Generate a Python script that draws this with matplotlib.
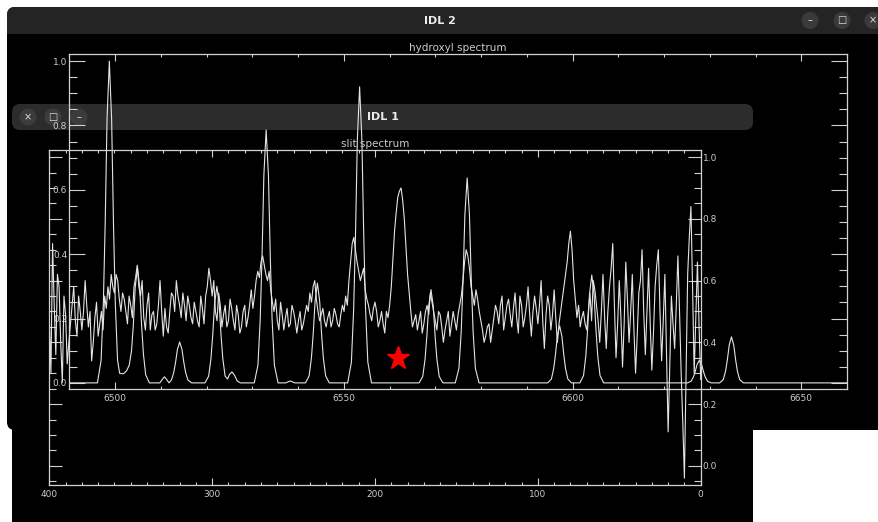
"""
Two overlapping IDL windows: the hydroxyl (OH) sky spectrum and the
slit spectrum, which the window manager shows mirrored left to right.
"""

import numpy as np
import matplotlib
matplotlib.use('Agg')
import matplotlib.pyplot as plt
from matplotlib.patches import FancyBboxPatch, Rectangle, Circle
from matplotlib.ticker import MultipleLocator, FormatStrFormatter

# hydroxyl spectrum: wavelength (Angstrom) and normalised flux
oh_wave = [6490.0,
           6496.15, 6496.95, 6497.45, 6497.85, 6498.25, 6498.75, 6499.25, 6499.65, 6500.05, 6500.55,
           6501.0, 6501.8, 6502.5, 6503.1, 6503.6, 6504.0, 6504.4, 6504.9, 6505.4, 6505.8,
           6506.2, 6506.7, 6507.5,
           6509.8, 6510.4, 6510.8, 6511.2, 6511.8,
           6512.33, 6512.83, 6513.23, 6513.63, 6514.13, 6514.63, 6515.03, 6515.43, 6515.93, 6516.73,
           6519.66, 6520.46, 6520.96, 6521.36, 6521.76, 6522.26, 6522.76, 6523.16, 6523.56, 6524.06,
           6524.6, 6525.0, 6525.56, 6526.1, 6526.7, 6527.4,
           6530.43, 6531.23, 6531.73, 6532.13, 6532.53, 6533.03, 6533.53, 6533.93, 6534.33, 6534.83, 6535.63,
           6537.3, 6538.3, 6539.3,
           6541.63, 6542.43, 6542.93, 6543.33, 6543.73, 6544.23, 6544.73, 6545.13, 6545.53, 6546.03, 6546.83,
           6550.86, 6551.66, 6552.16, 6552.56, 6552.96, 6553.46, 6553.96, 6554.36, 6554.76, 6555.26, 6556.06,
           6566.46, 6567.26, 6567.76, 6568.16, 6568.56, 6569.06, 6569.56, 6569.96, 6570.36, 6570.86, 6571.66,
           6574.37, 6575.17, 6575.67, 6576.07, 6576.47, 6576.97, 6577.47, 6577.87, 6578.27, 6578.77, 6579.57,
           6594.58, 6595.38, 6595.88, 6596.28, 6596.68, 6597.18, 6597.68, 6598.08, 6598.48, 6598.98, 6599.78,
           6601.61, 6602.41, 6602.91, 6603.31, 6603.71, 6604.21, 6604.71, 6605.11, 6605.51, 6606.01, 6606.81,
           6625.12, 6625.92, 6626.42, 6626.82, 6627.22, 6627.72, 6628.22, 6628.62, 6629.02, 6629.52, 6630.32,
           6632.15, 6632.95, 6633.45, 6633.85, 6634.25, 6634.75, 6635.25, 6635.65, 6636.05, 6636.55, 6637.35,
           6660.0]
oh_flux = [0.0,
           0.0, 0.07, 0.25, 0.5, 0.82, 1.0, 0.82, 0.5, 0.25, 0.07,
           0.03, 0.028, 0.037, 0.055, 0.10, 0.18, 0.295, 0.36, 0.295, 0.18,
           0.09, 0.025, 0.0,
           0.0, 0.012, 0.019, 0.012, 0.0,
           0.009, 0.032, 0.064, 0.104, 0.127, 0.104, 0.064, 0.032, 0.009, 0.0,
           0.0, 0.021, 0.075, 0.15, 0.246, 0.30, 0.246, 0.15, 0.075, 0.021,
           0.012, 0.026, 0.034, 0.024, 0.006, 0.0,
           0.0, 0.055, 0.197, 0.393, 0.645, 0.786, 0.645, 0.393, 0.197, 0.055, 0.0,
           0.0, 0.006, 0.0,
           0.0, 0.022, 0.078, 0.155, 0.254, 0.31, 0.254, 0.155, 0.078, 0.022, 0.0,
           0.0, 0.064, 0.23, 0.46, 0.754, 0.92, 0.754, 0.46, 0.23, 0.064, 0.0,
           0.0, 0.02, 0.073, 0.145, 0.238, 0.29, 0.238, 0.145, 0.073, 0.02, 0.0,
           0.0, 0.045, 0.159, 0.319, 0.522, 0.637, 0.522, 0.319, 0.159, 0.045, 0.0,
           0.0, 0.012, 0.044, 0.089, 0.145, 0.177, 0.145, 0.089, 0.044, 0.012, 0.0,
           0.0, 0.023, 0.084, 0.168, 0.275, 0.335, 0.275, 0.168, 0.084, 0.023, 0.0,
           0.0, 0.005, 0.018, 0.035, 0.057, 0.07, 0.057, 0.035, 0.018, 0.005, 0.0,
           0.0, 0.01, 0.036, 0.072, 0.117, 0.143, 0.117, 0.072, 0.036, 0.01, 0.0,
           0.0]

# slit spectrum: one value per pixel, from pixel 400 down to pixel 0
slit_pix = np.arange(400, -1, -1)
slit_flux = [0.48, 0.30, 0.72, 0.52, 0.36, 0.62, 0.58, 0.40, 0.27, 0.55, 0.49, 0.33, 0.40, 0.46, 0.52, 0.58, 0.47, 0.42, 0.55, 0.50,
             0.44, 0.50, 0.60, 0.52, 0.45, 0.50, 0.34, 0.40, 0.48, 0.53, 0.42, 0.46, 0.50, 0.44, 0.55, 0.51, 0.58, 0.54, 0.62, 0.58,
             0.56, 0.62, 0.60, 0.54, 0.50, 0.56, 0.54, 0.50, 0.46, 0.55, 0.52, 0.48, 0.58, 0.61, 0.65, 0.58, 0.55, 0.60, 0.48, 0.44,
             0.52, 0.56, 0.44, 0.49, 0.50, 0.44, 0.46, 0.52, 0.60, 0.50, 0.42, 0.51, 0.45, 0.43, 0.50, 0.56, 0.55, 0.50, 0.60, 0.55,
             0.52, 0.48, 0.56, 0.52, 0.47, 0.55, 0.52, 0.48, 0.46, 0.53, 0.50, 0.47, 0.45, 0.55, 0.51, 0.46, 0.55, 0.58, 0.64, 0.60,
             0.55, 0.60, 0.50, 0.47, 0.56, 0.52, 0.45, 0.49, 0.52, 0.45, 0.47, 0.54, 0.51, 0.47, 0.44, 0.52, 0.49, 0.43, 0.45, 0.50,
             0.52, 0.45, 0.48, 0.52, 0.57, 0.51, 0.55, 0.60, 0.63, 0.61, 0.66, 0.68, 0.65, 0.62, 0.60, 0.63, 0.57, 0.53, 0.50, 0.54,
             0.47, 0.44, 0.53, 0.49, 0.44, 0.48, 0.51, 0.45, 0.46, 0.52, 0.50, 0.47, 0.43, 0.47, 0.50, 0.44, 0.46, 0.49, 0.52, 0.50,
             0.56, 0.53, 0.58, 0.60, 0.54, 0.50, 0.47, 0.49, 0.51, 0.47, 0.45, 0.48, 0.50, 0.45, 0.47, 0.51, 0.49, 0.46, 0.45, 0.49,
             0.52, 0.50, 0.55, 0.52, 0.60, 0.66, 0.72, 0.74, 0.70, 0.66, 0.63, 0.60, 0.62, 0.64, 0.57, 0.54, 0.52, 0.49, 0.47, 0.51,
             0.53, 0.50, 0.45, 0.47, 0.50, 0.46, 0.43, 0.50, 0.48, 0.52, 0.58, 0.67, 0.76, 0.82, 0.87, 0.89, 0.90, 0.86, 0.80, 0.71,
             0.62, 0.56, 0.50, 0.45, 0.47, 0.49, 0.44, 0.47, 0.50, 0.43, 0.46, 0.50, 0.52, 0.49, 0.56, 0.53, 0.50, 0.47, 0.44, 0.50,
             0.49, 0.45, 0.40, 0.44, 0.47, 0.50, 0.42, 0.46, 0.50, 0.47, 0.44, 0.49, 0.52, 0.55, 0.60, 0.66, 0.70, 0.68, 0.64, 0.58,
             0.55, 0.52, 0.57, 0.54, 0.50, 0.47, 0.44, 0.40, 0.42, 0.45, 0.46, 0.40, 0.44, 0.48, 0.52, 0.50, 0.46, 0.52, 0.55, 0.44,
             0.48, 0.52, 0.54, 0.49, 0.45, 0.51, 0.56, 0.48, 0.43, 0.55, 0.52, 0.45, 0.48, 0.52, 0.58, 0.49, 0.42, 0.50, 0.55, 0.51,
             0.46, 0.52, 0.60, 0.47, 0.38, 0.49, 0.55, 0.52, 0.44, 0.49, 0.57, 0.48, 0.40, 0.46, 0.50, 0.54, 0.58, 0.62, 0.66, 0.72,
             0.76, 0.70, 0.60, 0.54, 0.48, 0.52, 0.45, 0.48, 0.50, 0.46, 0.44, 0.50, 0.56, 0.47, 0.60, 0.57, 0.52, 0.47, 0.40, 0.50,
             0.62, 0.48, 0.38, 0.50, 0.58, 0.64, 0.72, 0.52, 0.35, 0.46, 0.60, 0.48, 0.32, 0.46, 0.66, 0.54, 0.40, 0.50, 0.62, 0.44,
             0.30, 0.42, 0.56, 0.60, 0.70, 0.50, 0.36, 0.50, 0.64, 0.46, 0.31, 0.43, 0.58, 0.65, 0.70, 0.50, 0.34, 0.47, 0.62, 0.36,
             0.11, 0.32, 0.55, 0.46, 0.38, 0.52, 0.68, 0.50, 0.30, 0.14, -0.04, 0.30, 0.62, 0.74, 0.84, 0.58, 0.30, 0.48, 0.66, 0.45,
             0.28]

# red star marking H-alpha on the hydroxyl plot
star_wave = [6561.8]
star_flux = [0.078]

LINE = '#e4e4e4'
AXC = '#d2d2d2'
TXT = '#cccccc'


def draw_windows(fig):
    # window chrome, drawn in pixel coordinates behind both plots
    bg = fig.add_axes([0, 0, 1, 1], zorder=-5)
    bg.set_xlim(0, 879)
    bg.set_ylim(522, 0)
    bg.axis('off')

    # IDL 2 (back window)
    bg.add_patch(FancyBboxPatch((7, 7), 900, 423, boxstyle='round,pad=0,rounding_size=8',
                                fc='black', ec='none'))
    bg.add_patch(FancyBboxPatch((7, 7), 900, 27, boxstyle='round,pad=0,rounding_size=8',
                                fc='#242424', ec='none'))
    bg.add_patch(Rectangle((7, 22), 900, 12, fc='#242424', ec='none'))
    bg.text(440, 20.5, 'IDL 2', ha='center', va='center', color='#ececec',
            fontsize=8, fontweight='bold')
    for x, glyph in zip([810, 842, 873], ['–', '□', '×']):
        bg.add_patch(Circle((x, 20.5), 8.5, fc='#3a3a3a', ec='none'))
        bg.text(x, 20.5, glyph, ha='center', va='center', color='#e0e0e0', fontsize=7)

    # IDL 1 (front window, mirrored)
    bg.add_patch(FancyBboxPatch((12, 104), 741, 430, boxstyle='round,pad=0,rounding_size=8',
                                fc='black', ec='none'))
    bg.add_patch(FancyBboxPatch((12, 104), 741, 26, boxstyle='round,pad=0,rounding_size=8',
                                fc='#2c2c2c', ec='none'))
    bg.text(383, 117, 'IDL 1', ha='center', va='center', color='#ececec',
            fontsize=8, fontweight='bold')
    for x, glyph in zip([28, 53, 79], ['×', '□', '–']):
        bg.add_patch(Circle((x, 117), 8.5, fc='#3c3c3c', ec='none'))
        bg.text(x, 117, glyph, ha='center', va='center', color='#e0e0e0', fontsize=7)


def style_axes(ax, ylen):
    ax.set_facecolor('none')
    for sp in ax.spines.values():
        sp.set_color(AXC)
        sp.set_linewidth(0.9)
    ax.tick_params(which='both', direction='in', top=True, bottom=True, left=True, right=True,
                   color=AXC, labelcolor=TXT, labelsize=6.5, width=0.8)
    ax.tick_params(axis='x', which='major', length=4.8, pad=3.5)
    ax.tick_params(axis='x', which='minor', length=2.4)
    ax.tick_params(axis='y', which='major', length=ylen, pad=1.5)
    ax.tick_params(axis='y', which='minor', length=ylen / 2)
    ax.yaxis.set_major_locator(MultipleLocator(0.2))
    ax.yaxis.set_minor_locator(MultipleLocator(0.05))
    ax.yaxis.set_major_formatter(FormatStrFormatter('%.1f'))
    ax.xaxis.set_major_formatter(FormatStrFormatter('%d'))


def main():
    fig = plt.figure(figsize=(8.79, 5.22), dpi=100, facecolor='white')
    draw_windows(fig)

    # hydroxyl spectrum
    ax1 = fig.add_axes([69.3 / 879, 133 / 522, 777.7 / 879, 335 / 522])
    ax1.plot(oh_wave, oh_flux, color=LINE, lw=0.8)
    ax1.plot(star_wave, star_flux, marker='*', ms=17, color='red', mec='red', ls='none')
    ax1.set_xlim(6490, 6660)
    ax1.set_ylim(-0.019, 1.022)
    ax1.xaxis.set_major_locator(MultipleLocator(50))
    ax1.xaxis.set_minor_locator(MultipleLocator(10))
    style_axes(ax1, 11.2)
    ax1.tick_params(labeltop=False, labelright=False)
    ax1.set_title('hydroxyl spectrum', color=TXT, fontsize=7.5, pad=2.5)

    # slit spectrum, seen mirrored: pixel 0 on the right, flux labels on the right
    ax2 = fig.add_axes([49.3 / 879, 36.7 / 522, 651.4 / 879, 335.3 / 522])
    ax2.plot(slit_pix, slit_flux, color=LINE, lw=0.8)
    ax2.set_xlim(400, 0)
    ax2.set_ylim(-0.063, 1.023)
    ax2.xaxis.set_major_locator(MultipleLocator(100))
    ax2.xaxis.set_minor_locator(MultipleLocator(10))
    style_axes(ax2, 9.4)
    ax2.tick_params(labelleft=False, labelright=True, labeltop=False)
    ax2.set_title('slit spectrum', color=TXT, fontsize=7.5, pad=2.5)

    fig.savefig('out.png', dpi=100, facecolor='white')


if __name__ == '__main__':
    main()
